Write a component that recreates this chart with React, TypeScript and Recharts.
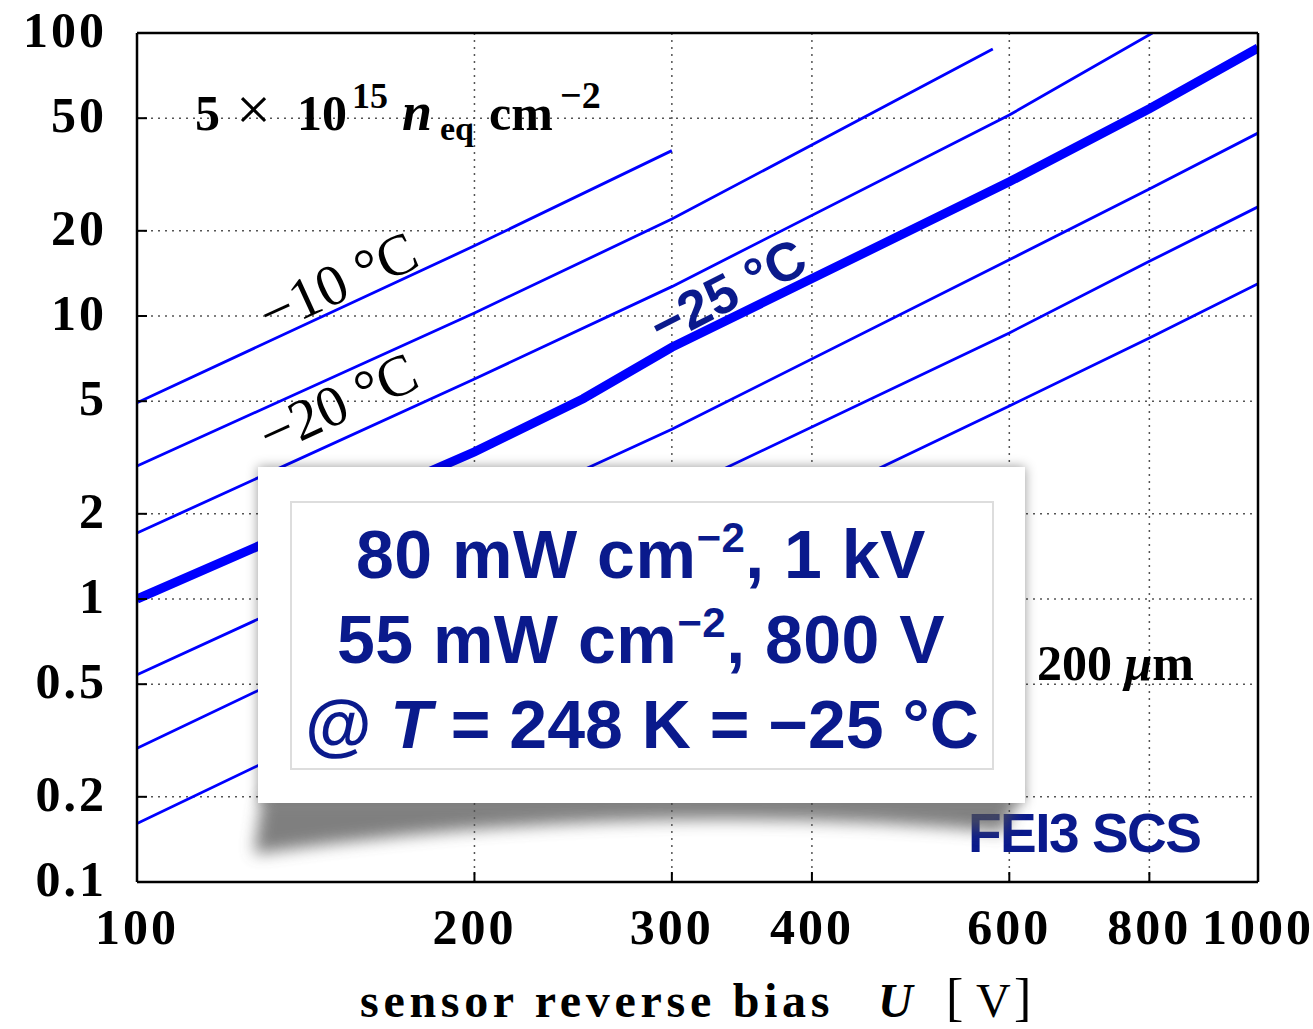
import React from "react";
import { LineChart, Line, XAxis, YAxis, CartesianGrid } from "recharts";

const xTicks = [100, 200, 300, 400, 600, 800, 1000];
const yTicks = [0.1, 0.2, 0.5, 1, 2, 5, 10, 20, 50, 100];

// sensor bias [V] and power density for each curve
const biasA = [100, 200, 300];
const powerA = [4.94, 17.7, 38.4];

const biasB = [100, 200, 300, 580];
const powerB = [2.95, 10.25, 22.0, 87.8];

const biasC = [100, 200, 300, 600, 805];
const powerC = [1.71, 5.99, 12.7, 51.3, 100];

const biasD = [100, 200, 250, 300, 600, 800, 1000];
const powerD = [1.0, 3.31, 5.1, 7.75, 29.8, 54, 88.5];

const biasE = [100, 300, 600, 800, 1000];
const powerE = [0.54, 3.98, 15.8, 28.1, 44.3];

const biasF = [100, 600, 800, 1000];
const powerF = [0.297, 8.71, 15.6, 24.3];

const biasG = [100, 600, 800, 1000];
const powerG = [0.161, 4.81, 8.36, 13.0];

const toPoints = (u: number[], p: number[]) => u.map((x, i) => ({ x, y: p[i] }));

const curves = [
  { id: "a", data: toPoints(biasA, powerA), width: 2.8 },
  { id: "b", data: toPoints(biasB, powerB), width: 2.8 },
  { id: "c", data: toPoints(biasC, powerC), width: 2.8 },
  { id: "d", data: toPoints(biasD, powerD), width: 9 },
  { id: "e", data: toPoints(biasE, powerE), width: 2.8 },
  { id: "f", data: toPoints(biasF, powerF), width: 2.8 },
  { id: "g", data: toPoints(biasG, powerG), width: 2.8 },
];

const SERIF = "'Liberation Serif', 'DejaVu Serif', serif";
const SANS = "'Liberation Sans', Arial, sans-serif";
const NAVY = "#0a1a8c";

const XTick = ({ x, y, payload }: any) => (
  <text
    x={x}
    y={y + 62}
    textAnchor="middle"
    fontFamily={SERIF}
    fontWeight="bold"
    fontSize={50}
    letterSpacing={3}
    fill="#000"
  >
    {payload.value}
  </text>
);

const YTick = ({ x, y, payload }: any) => (
  <text
    x={x - 30}
    y={y + 14}
    textAnchor="end"
    fontFamily={SERIF}
    fontWeight="bold"
    fontSize={50}
    letterSpacing={3}
    fill="#000"
  >
    {payload.value}
  </text>
);

const frame = { stroke: "#000", strokeWidth: 2.5 };
const tickStroke = { stroke: "#000", strokeWidth: 2 };

const Overlay = () => (
  <svg
    width={1313}
    height={1029}
    style={{ position: "absolute", left: 0, top: 0, pointerEvents: "none" }}
  >
    <defs>
      <filter id="curl" x="-20%" y="-100%" width="140%" height="300%">
        <feGaussianBlur stdDeviation="8" />
      </filter>
      <filter id="edge" x="-10%" y="-10%" width="120%" height="120%">
        <feDropShadow dx="0" dy="0" stdDeviation="6" floodColor="#000" floodOpacity="0.4" />
      </filter>
    </defs>

    {/* fluence */}
    <text y={130} fontFamily={SERIF} fontWeight="bold" fontSize={50} fill="#000">
      <tspan x={195}>5</tspan>
      <tspan x={236} fontWeight="normal" fontSize={62}>×</tspan>
      <tspan x={297}>10</tspan>
      <tspan x={352} fontSize={36} dy={-22}>15</tspan>
      <tspan x={402} dy={22} fontStyle="italic" fontSize={54}>n</tspan>
      <tspan x={440} fontSize={34} dy={10}>eq</tspan>
      <tspan x={489} dy={-10}>cm</tspan>
      <tspan x={560} fontSize={38} dy={-22}>−2</tspan>
    </text>

    {/* temperature labels */}
    <text
      transform="translate(346,300) rotate(-24.5)"
      textAnchor="middle"
      fontFamily={SERIF}
      fontSize={58}
      fill="#000"
    >
      −10 °C
    </text>
    <text
      transform="translate(346,421) rotate(-24.5)"
      textAnchor="middle"
      fontFamily={SERIF}
      fontSize={58}
      fill="#000"
    >
      −20 °C
    </text>
    <text
      transform="translate(736,308) rotate(-27)"
      textAnchor="middle"
      fontFamily={SANS}
      fontWeight="bold"
      fontSize={54}
      fill={NAVY}
    >
      −25 °C
    </text>

    {/* thickness */}
    <text y={680} fontFamily={SERIF} fontWeight="bold" fontSize={50} fill="#000">
      <tspan x={1037}>200 </tspan>
      <tspan fontStyle="italic">μ</tspan>
      <tspan>m</tspan>
    </text>

    <text x={968} y={852} fontFamily={SANS} fontWeight="bold" fontSize={55} letterSpacing={-1.5} fill={NAVY}>
      FEI3 SCS
    </text>

    {/* info box */}
    <path d="M 262 798 L 1018 798 L 1004 832 Q 640 798 254 854 Z" fill="#555" opacity={0.75} filter="url(#curl)" />
    <rect x={258} y={467} width={767} height={336} fill="#fff" filter="url(#edge)" />
    <rect x={291} y={502} width={702} height={267} fill="none" stroke="#dddddd" strokeWidth={2} />
    <g fontFamily={SANS} fontWeight="bold" fontSize={68} fill={NAVY} textAnchor="middle">
      <text x={641} y={578} letterSpacing={0.5}>
        80 mW cm<tspan fontSize={42} dy={-26}>−2</tspan>
        <tspan dy={26}>, 1 kV</tspan>
      </text>
      <text x={641} y={663} letterSpacing={0.5}>
        55 mW cm<tspan fontSize={42} dy={-26}>−2</tspan>
        <tspan dy={26}>, 800 V</tspan>
      </text>
      <text x={642} y={748}>
        @ <tspan fontStyle="italic">T</tspan> = 248 K = −25 °C
      </text>
    </g>

    {/* axis title */}
    <text y={1017} fontFamily={SERIF} fontWeight="bold" fontSize={48} fill="#000">
      <tspan x={360} letterSpacing={4.7}>sensor reverse bias</tspan>
      <tspan x={878} fontStyle="italic">U</tspan>
      <tspan x={946} fontWeight="normal" fontSize={52} dy={-2}>[</tspan>
      <tspan x={976} fontWeight="normal" fontSize={48} dy={2}>V</tspan>
      <tspan x={1014} fontWeight="normal" fontSize={52} dy={-2}>]</tspan>
    </text>
  </svg>
);

export default function App() {
  return (
    <div style={{ position: "absolute", left: 0, top: 0, width: 1313, height: 1029, background: "#fff" }}>
      <LineChart
        width={1313}
        height={1029}
        margin={{ top: 33, right: 55, bottom: 0, left: 0 }}
      >
        <CartesianGrid stroke="#555" strokeDasharray="2 5" strokeWidth={1.5} />
        <XAxis
          dataKey="x"
          type="number"
          scale="log"
          domain={[100, 1000]}
          ticks={xTicks}
          interval={0}
          allowDataOverflow
          height={147}
          tickSize={-10}
          tickMargin={10}
          tickLine={tickStroke}
          axisLine={frame}
          tick={<XTick />}
        />
        <XAxis
          xAxisId="top"
          orientation="top"
          mirror
          type="number"
          scale="log"
          domain={[100, 1000]}
          ticks={xTicks}
          interval={0}
          allowDataOverflow
          tickSize={10}
          tickLine={tickStroke}
          axisLine={frame}
          tick={false}
        />
        <YAxis
          type="number"
          scale="log"
          domain={[0.1, 100]}
          ticks={yTicks}
          interval={0}
          allowDataOverflow
          width={137}
          tickSize={-10}
          tickMargin={10}
          tickLine={tickStroke}
          axisLine={frame}
          tick={<YTick />}
        />
        <YAxis
          yAxisId="right"
          orientation="right"
          mirror
          type="number"
          scale="log"
          domain={[0.1, 100]}
          ticks={yTicks}
          interval={0}
          allowDataOverflow
          width={20}
          tickSize={10}
          tickLine={tickStroke}
          axisLine={frame}
          tick={false}
        />
        {curves.map((c) => (
          <Line
            key={c.id}
            data={c.data}
            dataKey="y"
            type="linear"
            stroke="#0000ff"
            strokeWidth={c.width}
            dot={false}
            isAnimationActive={false}
          />
        ))}
      </LineChart>
      <Overlay />
    </div>
  );
}
